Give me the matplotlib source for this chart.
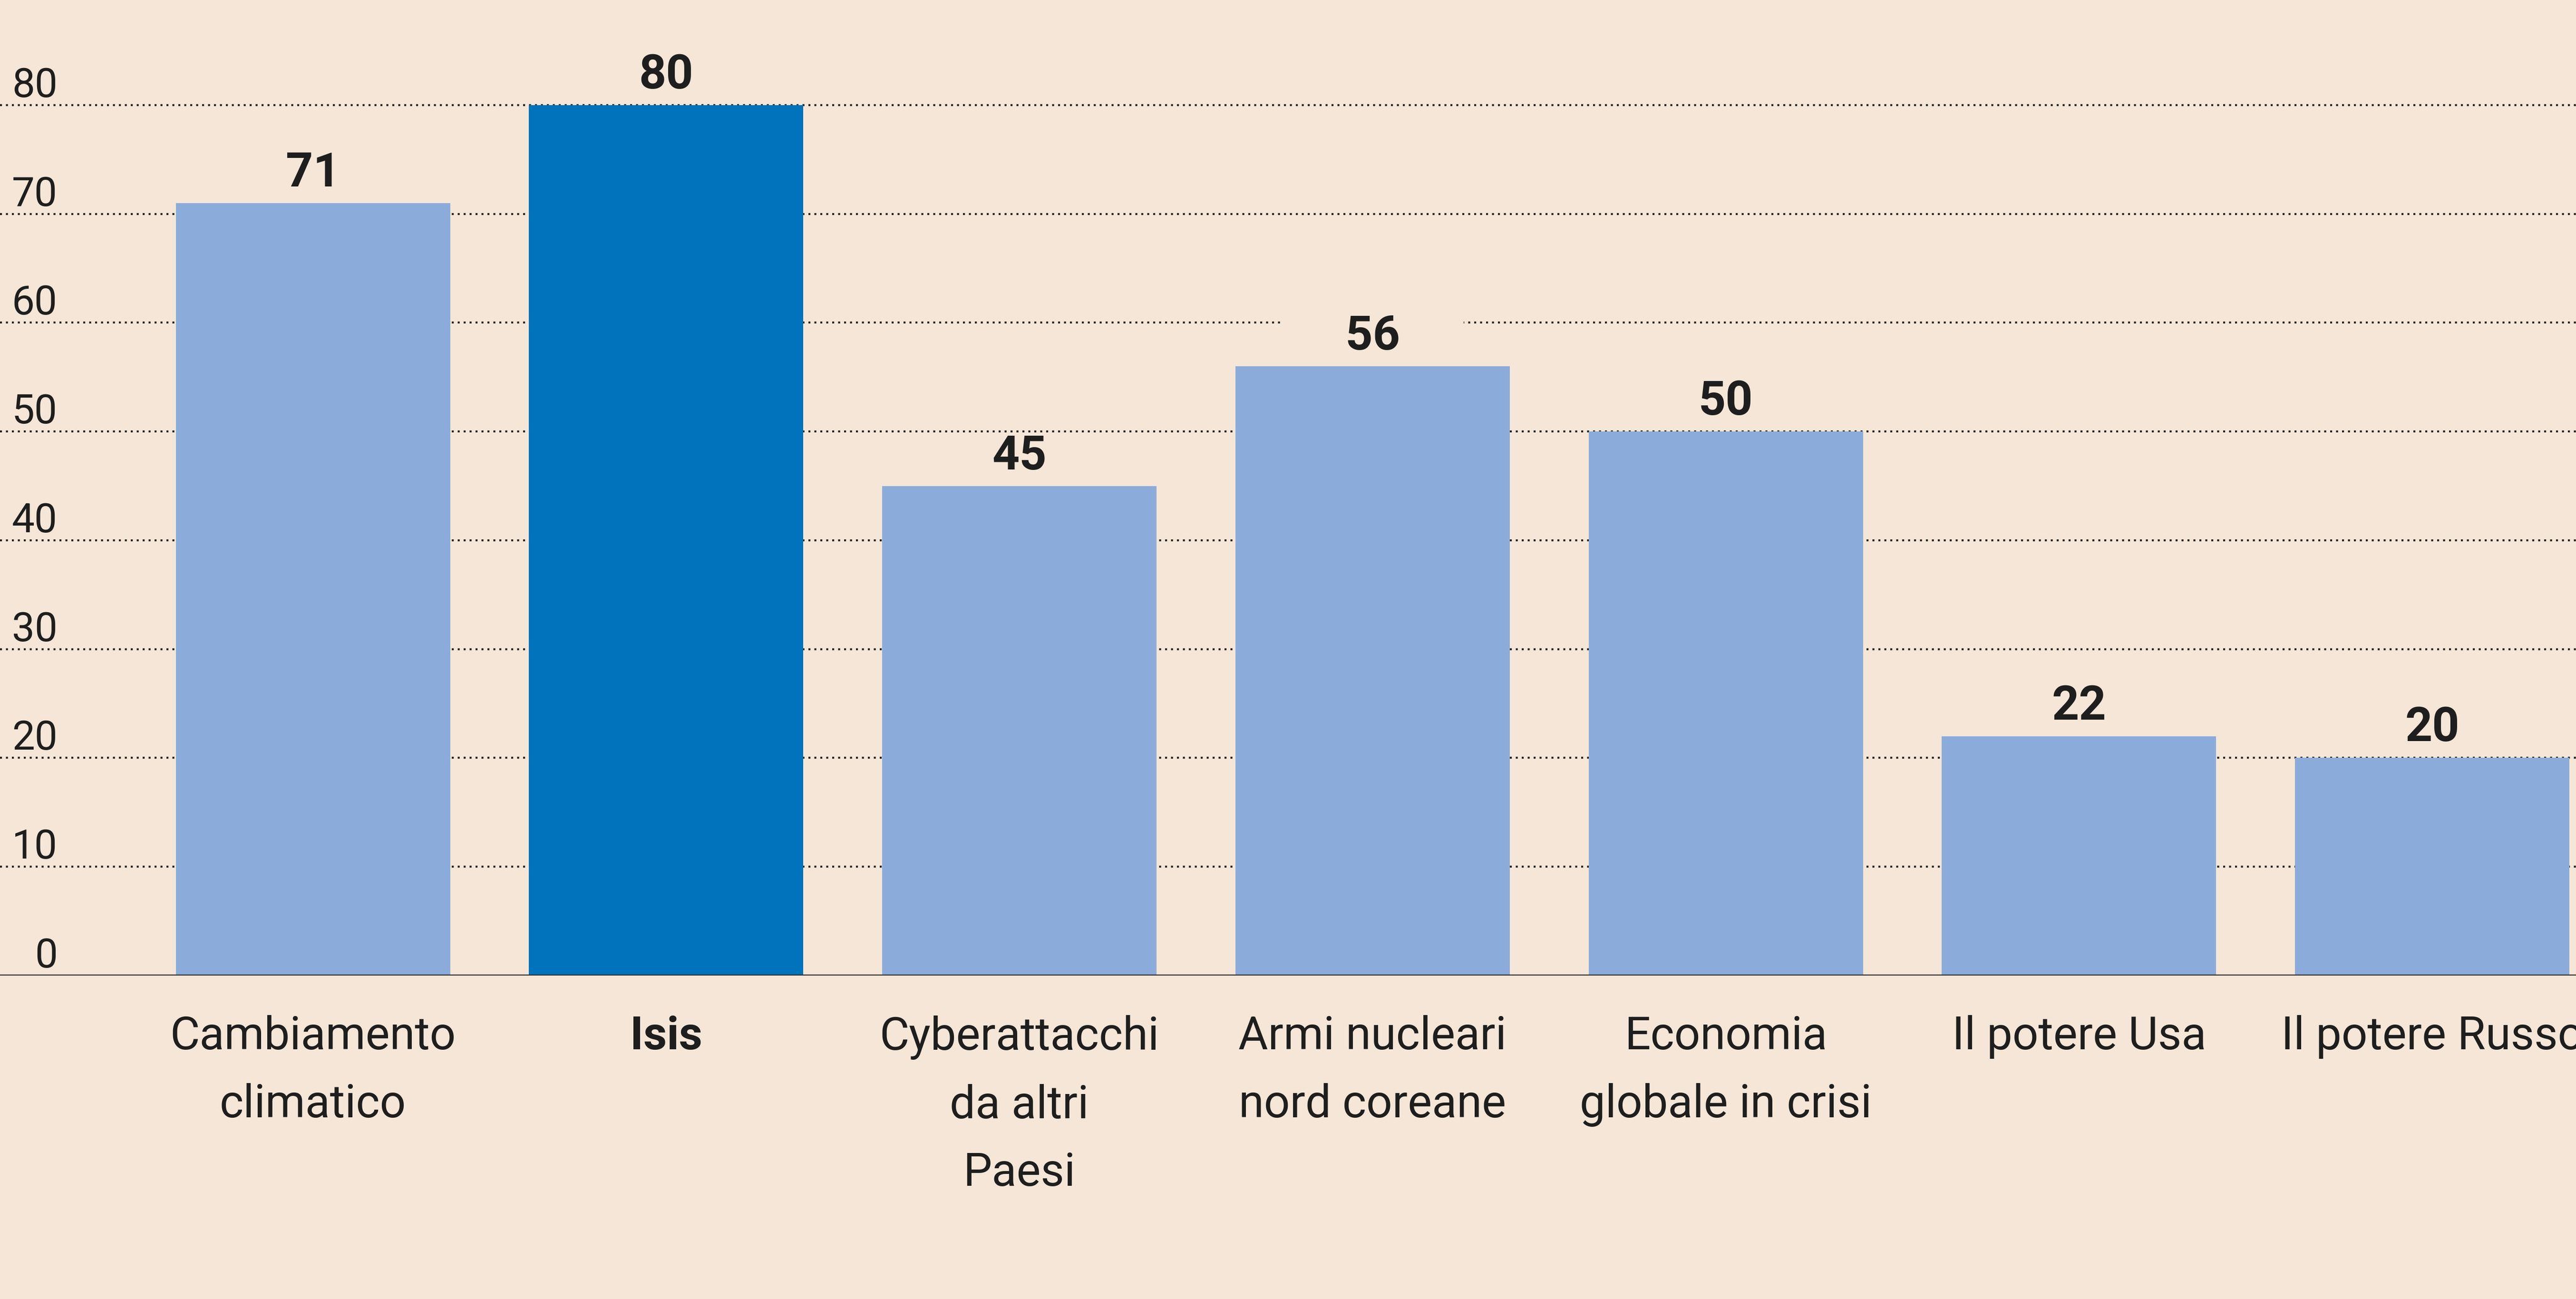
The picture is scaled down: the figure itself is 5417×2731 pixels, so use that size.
import matplotlib.pyplot as plt
import numpy as np

# data
categorie = ["Cambiamento\nclimatico", "Isis", "Cyberattacchi\nda altri\nPaesi",
             "Armi nucleari\nnord coreane", "Economia\nglobale in crisi",
             "Il potere Usa", "Il potere Russo"]
valori = [71, 80, 45, 56, 50, 22, 20]
evidenza = "Isis"
yticks = [0, 10, 20, 30, 40, 50, 60, 70, 80]

bg = "#F5E6D7"
chiaro = "#8BACDA"
scuro = "#0073BD"
testo = "#1E1E1E"

plt.rcParams['font.family'] = ['Roboto', 'DejaVu Sans']

fig = plt.figure(figsize=(5417/300, 2731/300), dpi=300, facecolor=bg)
ax = fig.add_axes([0, 0.249, 1, 0.751])
ax.set_facecolor(bg)

x = np.arange(len(categorie))
colori = [scuro if c == evidenza else chiaro for c in categorie]
ax.bar(x, valori, width=0.777, color=colori, zorder=3)

# dotted gridlines + y labels inside the plot
for t in yticks[1:]:
    ax.axhline(t, color="#222222", lw=1.0, linestyle=(0, (1, 2)), zorder=1)
for t in yticks:
    ax.text(0.0223, t, str(t), transform=ax.get_yaxis_transform(), ha='right', va='bottom',
            fontsize=20.5, fontweight='normal', color=testo)
ax.axhline(0, color="#333333", lw=1.3, zorder=4)

# value labels; where a gridline runs through the number, cut a gap in it
for xi, v in zip(x, valori):
    taglia = any(v + 1.5 < t < v + 4.7 for t in yticks)
    if taglia:
        ax.annotate("     " + str(v) + "     ", (xi, v), xytext=(0, 8.4),
                    textcoords='offset points', ha='center', va='baseline',
                    fontsize=24, fontweight='bold', color=testo, zorder=2,
                    bbox=dict(boxstyle='square,pad=0.1', fc=bg, ec='none'))
    else:
        ax.annotate(str(v), (xi, v), xytext=(0, 8.4), textcoords='offset points',
                    ha='center', va='baseline', fontsize=24, fontweight='bold',
                    color=testo, zorder=2)

ax.set_xlim(-0.886, 6.407)
ax.set_ylim(0, 89.66)
ax.set_xticks(x)
ax.set_xticklabels(categorie, fontsize=23, color=testo, linespacing=1.7)
for lab in ax.get_xticklabels():
    if lab.get_text() == evidenza:
        lab.set_fontweight('bold')
ax.tick_params(axis='x', length=0, pad=20)
ax.set_yticks([])
for s in ax.spines.values():
    s.set_visible(False)

fig.savefig("out.png", dpi=300, facecolor=bg)
